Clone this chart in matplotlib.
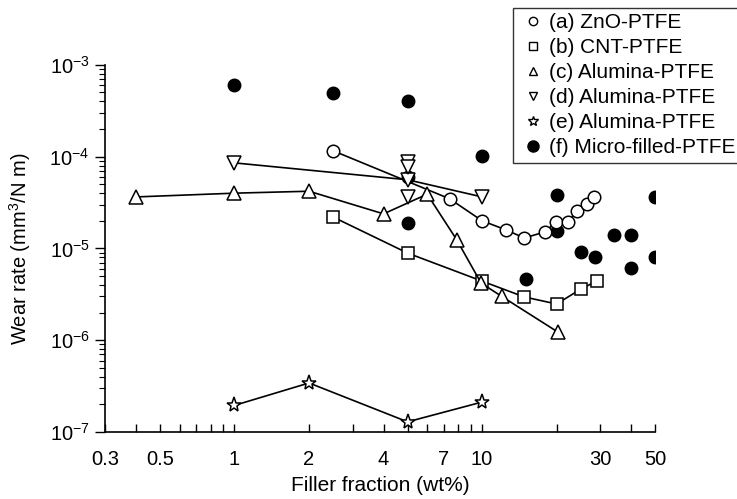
import matplotlib
matplotlib.use("Agg")
import matplotlib.pyplot as plt
from matplotlib.lines import Line2D
from matplotlib.ticker import FixedLocator, NullLocator, LogLocator, NullFormatter

plt.rcParams['font.family'] = ['Liberation Sans', 'DejaVu Sans']
plt.rcParams['mathtext.fontset'] = 'custom'
plt.rcParams['mathtext.rm'] = 'Liberation Sans'

# (a) ZnO-PTFE
zno_x = [2.5, 7.4, 10, 12.5, 14.8, 17.9, 19.9, 22.2, 24.2, 26.5, 28.3]
zno_y = [1.16e-4, 3.47e-5, 2.0e-5, 1.59e-5, 1.30e-5, 1.51e-5, 1.94e-5, 1.94e-5, 2.56e-5, 3.05e-5, 3.64e-5]
# (b) CNT-PTFE
cnt_x = [2.5, 5, 10, 14.8, 20, 25, 29]
cnt_y = [2.2e-5, 8.9e-6, 4.4e-6, 2.96e-6, 2.48e-6, 3.6e-6, 4.4e-6]
# (c) Alumina-PTFE
alc_x = [0.4, 1, 2, 4, 6, 7.9, 9.9, 12, 20.2]
alc_y = [3.64e-5, 4.0e-5, 4.2e-5, 2.38e-5, 3.9e-5, 1.24e-5, 4.2e-6, 3.0e-6, 1.23e-6]
# (d) Alumina-PTFE (connected series + extra points)
ald_x = [1, 5, 10]
ald_y = [8.55e-5, 5.6e-5, 3.64e-5]
ald_extra_x = [5, 5, 5]
ald_extra_y = [8.8e-5, 7.7e-5, 3.64e-5]
# (e) Alumina-PTFE
ale_x = [1, 2, 5, 10]
ale_y = [1.95e-7, 3.42e-7, 1.29e-7, 2.12e-7]
# (f) Micro-filled-PTFE
mic_x = [1, 2.5, 5, 10, 5, 5, 20, 20, 50, 34, 40, 25, 28.5, 40, 50, 15]
mic_y = [6.05e-4, 4.95e-4, 4.05e-4, 1.02e-4, 6.0e-5, 1.9e-5, 3.83e-5, 1.55e-5,
         3.64e-5, 1.4e-5, 1.4e-5, 9.2e-6, 8.1e-6, 6.1e-6, 8.1e-6, 4.65e-6]

labels = ['(a) ZnO-PTFE', '(b) CNT-PTFE', '(c) Alumina-PTFE',
          '(d) Alumina-PTFE', '(e) Alumina-PTFE', '(f) Micro-filled-PTFE']

xticks = [0.3, 0.4, 0.5, 0.6, 0.7, 0.8, 0.9, 1, 2, 3, 4, 5, 6, 7, 8, 9, 10, 20, 30, 40, 50]
xlabeled = {0.3: '0.3', 0.5: '0.5', 1: '1', 2: '2', 4: '4', 7: '7', 10: '10', 30: '30', 50: '50'}

fig = plt.figure(figsize=(7.37, 4.99), dpi=100)
ax = fig.add_axes([0.1425, 0.1343, 0.7465, 0.7357])

lw = 1.2
open_kw = dict(color='black', mfc='white', mec='black', mew=1.1, lw=lw)
ax.plot(mic_x, mic_y, 'o', color='black', ms=9, ls='none', zorder=2)
ax.plot(zno_x, zno_y, marker='o', ms=9, zorder=3, **open_kw)
ax.plot(cnt_x, cnt_y, marker='s', ms=8, zorder=3, **open_kw)
ax.plot(alc_x, alc_y, marker='^', ms=10, zorder=3, **open_kw)
ax.plot(ald_x, ald_y, marker='v', ms=10, zorder=3, **open_kw)
ax.plot(ald_extra_x, ald_extra_y, marker='v', ms=10, ls='none', zorder=3,
        mfc='white', mec='black', mew=1.1)
ax.plot(ale_x, ale_y, marker='*', ms=11, zorder=3, **open_kw)

ax.set_xscale('log')
ax.set_yscale('log')
ax.set_xlim(0.3, 50)
ax.set_ylim(1e-7, 1e-3)

ax.xaxis.set_major_locator(FixedLocator(xticks))
ax.xaxis.set_minor_locator(NullLocator())
ax.set_xticklabels([xlabeled.get(t, '') for t in xticks])
ax.yaxis.set_major_locator(LogLocator(base=10, numticks=10))
ax.yaxis.set_minor_locator(LogLocator(base=10, subs=range(2, 10), numticks=20))
ax.yaxis.set_minor_formatter(NullFormatter())

ax.tick_params(axis='x', direction='in', length=6, width=1, labelsize=14.5, pad=13)
ax.tick_params(axis='y', which='major', direction='out', length=7, width=1, labelsize=14.5, pad=4)
ax.tick_params(axis='y', which='minor', direction='out', length=4, width=0.8)

for s in ['top', 'right']:
    ax.spines[s].set_visible(False)
for s in ['left', 'bottom']:
    ax.spines[s].set_linewidth(1.2)

ax.set_xlabel('Filler fraction (wt%)', fontsize=15, labelpad=5)
ax.set_ylabel('Wear rate (mm$^3$/N m)', fontsize=14.5, labelpad=12)

handles = [
    Line2D([], [], marker='o', ls='none', mfc='white', mec='black', ms=6),
    Line2D([], [], marker='s', ls='none', mfc='white', mec='black', ms=6),
    Line2D([], [], marker='^', ls='none', mfc='white', mec='black', ms=6),
    Line2D([], [], marker='v', ls='none', mfc='white', mec='black', ms=6),
    Line2D([], [], marker='*', ls='none', mfc='white', mec='black', ms=7.5),
    Line2D([], [], marker='o', ls='none', color='black', ms=8),
]
leg = fig.legend(handles, labels, loc='upper left', bbox_to_anchor=(0.696, 0.984),
                 fontsize=15, frameon=True, fancybox=False, edgecolor='black',
                 handlelength=1.4, handletextpad=0.1, labelspacing=0.29,
                 borderpad=0.25, borderaxespad=0)
leg.get_frame().set_linewidth(1.0)

fig.savefig('out.png', dpi=100)
